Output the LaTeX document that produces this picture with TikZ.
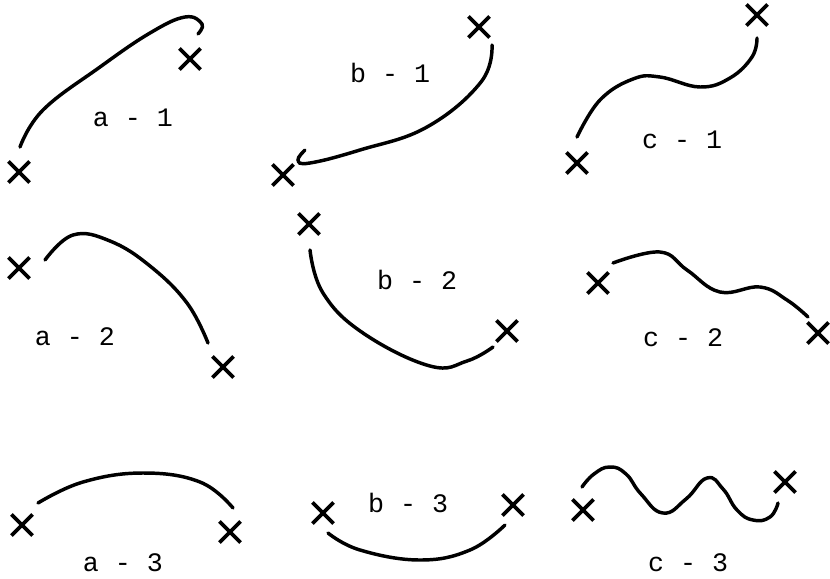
\documentclass[tikz,border=0pt]{standalone}
\usepackage{fontspec}
\setmonofont{Liberation Mono}
\usetikzlibrary{shapes.misc}

\begin{document}
\begin{tikzpicture}[
		x=0.75pt, y=-0.75pt,
		crossmark/.style={draw, cross out, line width=2.8pt, minimum size=13pt, inner sep=0pt},
		trace/.style={line width=2.6pt, line cap=round},
		tag/.style={font=\fontsize{20}{22}\selectfont\ttfamily}
		]
		\useasboundingbox (0,0) rectangle (830,578);
		
		% --- Row 1 ---
		\node[crossmark] (a1s) at (19,172) {};
		\node[crossmark] (a1e) at (190,59) {};
		\draw[trace] plot[smooth, tension=0.7] coordinates {(20,147) (43,110) (100,67) (150,33) (185,17) (202,24) (198,34)};
		\node[tag] (a1) at (133,118) {a - 1};
		
		\node[crossmark] (b1s) at (283,175) {};
		\node[crossmark] (b1e) at (479,27) {};
		\draw[trace] plot[smooth, tension=0.7] coordinates {(492,45) (481,82) (427,127) (360,150) (310,163) (298,160) (305,150)};
		\node[tag] (b1) at (390,73) {b - 1};
		
		\node[crossmark] (c1s) at (577,163) {};
		\node[crossmark] (c1e) at (757,15) {};
		\draw[trace] plot[smooth, tension=0.7] coordinates {(577,137) (600,100) (633,79) (660,77) (700,87) (730,78) (752,57) (757,38)};
		\node[tag] (c1) at (682,140) {c - 1};
		
		% --- Row 2 ---
		\node[crossmark] (a2s) at (19,268) {};
		\node[crossmark] (a2e) at (223,367) {};
		\draw[trace] plot[smooth, tension=0.7] coordinates {(45,260) (73,235) (110,241) (150,266) (187,303) (208,343)};
		\node[tag] (a2) at (75,337) {a - 2};
		
		\node[crossmark] (b2s) at (309,224) {};
		\node[crossmark] (b2e) at (507,331) {};
		\draw[trace] plot[smooth, tension=0.7] coordinates {(310,250) (323,293) (363,333) (430,366) (467,361) (493,347)};
		\node[tag] (b2) at (417,280) {b - 2};
		
		\node[crossmark] (c2s) at (598,283) {};
		\node[crossmark] (c2e) at (818,333) {};
		\draw[trace] plot[smooth, tension=0.7] coordinates {(613,263) (660,252) (687,270) (720,292) (760,287) (787,300) (808,317)};
		\node[tag] (c2) at (683,338) {c - 2};
		
		% --- Row 3 ---
		\node[crossmark] (a3s) at (22,525) {};
		\node[crossmark] (a3e) at (230,532) {};
		\draw[trace] plot[smooth, tension=0.7] coordinates {(38,503) (83,482) (143,473) (200,482) (233,508)};
		\node[tag] (a3) at (123,563) {a - 3};
		
		\node[crossmark] (b3s) at (323,513) {};
		\node[crossmark] (b3e) at (513,505) {};
		\draw[trace] plot[smooth, tension=0.7] coordinates {(328,533) (360,550) (420,560) (470,550) (505,525)};
		\node[tag] (b3) at (408,503) {b - 3};
		
		\node[crossmark] (c3s) at (583,510) {};
		\node[crossmark] (c3e) at (785,482) {};
		\draw[trace] plot[smooth, tension=0.8] coordinates {(582,487) (594,474) (610,467) (626,474) (641,494) (663,513) (686,499) (707,478) (723,489) (737,510) (753,520) (770,517) (778,503)};
		\node[tag] (c3) at (688,563) {c - 3};
		
	\end{tikzpicture}
\end{document}
